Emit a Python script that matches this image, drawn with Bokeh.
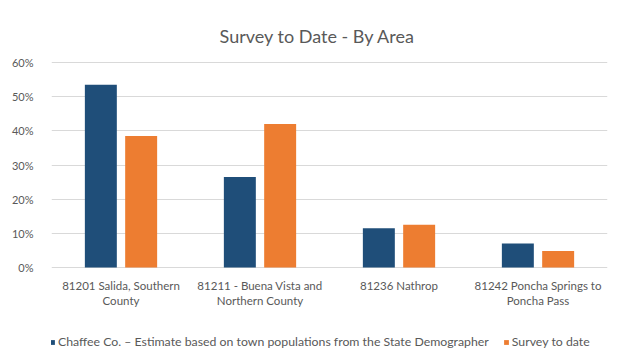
from bokeh.plotting import figure
from bokeh.models import Legend, LegendItem, NumeralTickFormatter, FixedTicker, ColumnDataSource
from bokeh.core.properties import value
from bokeh.embed import file_html
from bokeh.resources import INLINE

title = "Survey to Date - By Area"
areas = ["81201 Salida, Southern County", "81211 - Buena Vista and Northern County",
         "81236 Nathrop", "81242 Poncha Springs to Poncha Pass"]
area_line1 = ["81201 Salida, Southern", "81211 - Buena Vista and", "81236 Nathrop", "81242 Poncha Springs to"]
area_line2 = ["County", "Northern County", "", "Poncha Pass"]
chaffee = [0.535, 0.265, 0.115, 0.07]
survey = [0.385, 0.42, 0.125, 0.048]
y_ticks = [0, 0.1, 0.2, 0.3, 0.4, 0.5, 0.6]
series_names = ["Chaffee Co. \u2013 Estimate based on town populations from the State Demographer", "Survey to date"]

xpos = list(range(len(areas)))
src = ColumnDataSource(dict(x=xpos, x1=[i - 0.145 for i in xpos], x2=[i + 0.145 for i in xpos],
                            chaffee=chaffee, survey=survey, zero=[0] * len(xpos),
                            l1=area_line1, l2=area_line2))

FONT = "Lato"
GREY = "#595959"

# frame covers full height: 0% at 267px, 60% at 62px in a 360px tall frame
px_per_unit = (267 - 62) / 0.6
y_end = 0.6 + 62 / px_per_unit
y_start = -(360 - 267) / px_per_unit

p = figure(x_range=(-0.5, len(areas) - 0.5), y_range=(y_start, y_end),
           width=618, height=360, output_backend="svg", toolbar_location=None,
           min_border_left=51, min_border_right=11, min_border_top=0, min_border_bottom=0)

r1 = p.vbar(x="x1", top="chaffee", width=0.23, source=src, fill_color="#1F4E79", line_color=None)
r2 = p.vbar(x="x2", top="survey", width=0.23, source=src, fill_color="#ED7D31", line_color=None)

p.text(x="x", y="zero", text="l1", source=src, y_offset=18, text_align="center", text_baseline="middle",
       text_font=value(FONT), text_font_size="11.5px", text_color=GREY)
p.text(x="x", y="zero", text="l2", source=src, y_offset=33, text_align="center", text_baseline="middle",
       text_font=value(FONT), text_font_size="11.5px", text_color=GREY)
p.text(x=[(len(areas) - 1) / 2], y=[y_end], text=[title], x_offset=-12, y_offset=35,
       text_align="center", text_baseline="middle",
       text_font=value(FONT), text_font_size="18px", text_color=GREY)

p.yaxis.ticker = FixedTicker(ticks=y_ticks)
p.yaxis.formatter = NumeralTickFormatter(format="0%")
p.yaxis.axis_line_color = None
p.yaxis.major_tick_line_color = None
p.yaxis.minor_tick_line_color = None
p.yaxis.major_label_text_font = FONT
p.yaxis.major_label_text_font_size = "11px"
p.yaxis.major_label_text_color = GREY
p.yaxis.major_label_standoff = 12

p.xaxis.visible = False
p.xgrid.grid_line_color = None
p.ygrid.ticker = FixedTicker(ticks=y_ticks)
p.ygrid.grid_line_color = "#d9d9d9"
p.outline_line_color = None
p.border_fill_color = "white"

legend = Legend(items=[LegendItem(label=series_names[0], renderers=[r1]),
                       LegendItem(label=series_names[1], renderers=[r2])],
                orientation="horizontal", location=(-2, 11),
                label_text_font=FONT, label_text_font_size="12.3px", label_text_color=GREY,
                glyph_width=6, glyph_height=6, label_standoff=3, spacing=14,
                border_line_color=None, background_fill_alpha=0, padding=2, margin=0)
p.add_layout(legend)

open("out.html", "w").write(file_html(p, INLINE))
